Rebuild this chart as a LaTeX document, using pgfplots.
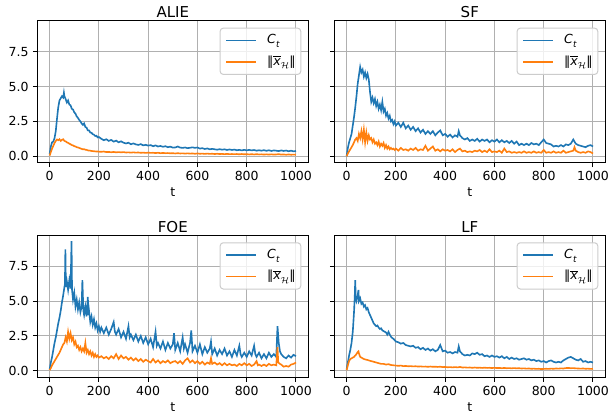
\documentclass[border=0pt]{standalone}
\usepackage{fontspec}
\setmainfont{DejaVu Sans}
\usepackage{pgfplots}
\pgfplotsset{compat=1.18}
\definecolor{c0}{HTML}{1F77B4}
\definecolor{c1}{HTML}{FF7F0E}
\definecolor{gridc}{HTML}{B0B0B0}
\definecolor{legc}{HTML}{CCCCCC}
\newcommand{\Ct}{\textit{C}\kern0.3pt\raisebox{-0.3em}{\fontsize{7}{8}\selectfont\textit{t}}}
\newcommand{\Nx}{\char"2016$\overline{\hbox{\itshape x}}$\raisebox{-0.3em}{\fontsize{7}{8}\selectfont$\mathcal{H}$}\char"2016}
\pgfplotsset{
 myax/.style={
  scale only axis, width=216.8pt, height=113.6pt,
  xmin=-50, xmax=1050, ymin=-0.46, ymax=9.71,
  xtick={0,200,...,1000}, ytick={0,2.5,5,7.5},
  grid=major, major grid style={gridc, line width=0.8pt},
  axis line style={black, line width=0.8pt},
  tick align=outside, major tick length=3.5pt, tick style={black, line width=0.8pt},
  xtick pos=left, ytick pos=left,
  xlabel={t},
  xlabel style={at={(0.5,0)}, anchor=base, yshift=-27.2pt, inner sep=0pt, font=\fontsize{10}{12}\selectfont},
  title style={at={(0.5,1)}, anchor=base, yshift=-3.8pt, inner sep=0pt, font=\fontsize{12}{14}\selectfont},
  tick label style={font=\fontsize{10}{12}\selectfont},
  /pgf/number format/assume math mode=true,
  xticklabel style={/pgf/number format/1000 sep={}},
  yticklabel style={/pgf/number format/.cd, fixed, fixed zerofill, precision=1},
  legend style={at={(0.974,0.951)}, anchor=north east, draw=legc, line width=0.8pt,
    rounded corners=2.5pt, fill=white, fill opacity=0.8, draw opacity=1, text opacity=1,
    font=\fontsize{10}{12}\selectfont, inner xsep=4.2pt, inner ysep=4.4pt, row sep=6.2pt, column sep=8pt,
    nodes={inner sep=0pt, text height=8pt, text depth=3pt}},
  legend cell align=left,
  legend image code/.code={\draw[#1] (0pt,0pt) -- (24pt,0pt);},
  every axis plot/.append style={line width=1.3pt, no marks},
 }
}
\begin{document}
\begin{tikzpicture}
\useasboundingbox (0,0) rectangle (488pt,-333.6pt);
% ALIE
\begin{axis}[myax, at={(29.84pt,-16.56pt)}, anchor=north west, title={ALIE}]
\addplot[c0] table[row sep=\\] {t y \\ 0 0.15 \\ 5 0.7 \\ 10 1.0 \\ 15 1.05 \\ 20 1.3 \\ 25 1.8 \\ 30 2.7 \\ 35 3.5 \\ 40 4.0 \\ 45 4.15 \\ 50 4.3 \\ 55 4.2 \\ 58 4.55 \\ 60 4.3 \\ 65 4.1 \\ 70 3.85 \\ 75 4.0 \\ 80 3.7 \\ 85 3.65 \\ 90 3.4 \\ 95 3.35 \\ 100 3.15 \\ 105 3.05 \\ 110 2.85 \\ 115 2.75 \\ 120 2.6 \\ 125 2.5 \\ 130 2.35 \\ 135 2.25 \\ 140 2.35 \\ 145 2.1 \\ 150 2.05 \\ 155 1.85 \\ 160 1.85 \\ 165 1.7 \\ 170 1.68 \\ 175 1.58 \\ 180 1.55 \\ 185 1.45 \\ 190 1.47 \\ 195 1.35 \\ 200 1.38 \\ 210 1.25 \\ 220 1.15 \\ 230 1.22 \\ 240 1.1 \\ 250 1.17 \\ 260 1.05 \\ 270 1.12 \\ 280 1.0 \\ 290 1.07 \\ 300 0.97 \\ 310 0.92 \\ 320 0.97 \\ 330 0.86 \\ 340 0.92 \\ 350 0.85 \\ 360 0.81 \\ 370 0.87 \\ 380 0.78 \\ 390 0.82 \\ 400 0.76 \\ 410 0.8 \\ 420 0.72 \\ 430 0.78 \\ 440 0.7 \\ 450 0.74 \\ 460 0.68 \\ 470 0.72 \\ 480 0.65 \\ 490 0.69 \\ 500 0.62 \\ 510 0.63 \\ 520 0.7 \\ 530 0.62 \\ 540 0.6 \\ 550 0.63 \\ 560 0.58 \\ 570 0.61 \\ 580 0.64 \\ 590 0.6 \\ 600 0.63 \\ 610 0.55 \\ 620 0.58 \\ 630 0.52 \\ 640 0.56 \\ 650 0.5 \\ 660 0.53 \\ 670 0.5 \\ 680 0.47 \\ 690 0.51 \\ 700 0.47 \\ 710 0.5 \\ 720 0.45 \\ 730 0.49 \\ 740 0.45 \\ 750 0.48 \\ 760 0.43 \\ 770 0.46 \\ 780 0.42 \\ 790 0.46 \\ 800 0.42 \\ 810 0.46 \\ 820 0.42 \\ 830 0.45 \\ 840 0.4 \\ 850 0.43 \\ 860 0.4 \\ 870 0.44 \\ 880 0.39 \\ 890 0.43 \\ 900 0.38 \\ 910 0.42 \\ 920 0.4 \\ 930 0.37 \\ 940 0.42 \\ 950 0.38 \\ 960 0.41 \\ 970 0.36 \\ 980 0.4 \\ 990 0.35 \\ 1000 0.38 \\};
\addlegendentry{\Ct}
\addplot[c1] table[row sep=\\] {t y \\ 0 0.05 \\ 5 0.3 \\ 10 0.55 \\ 15 0.75 \\ 20 0.95 \\ 25 1.1 \\ 30 1.2 \\ 35 1.15 \\ 40 1.22 \\ 45 1.1 \\ 50 1.17 \\ 55 1.22 \\ 60 1.1 \\ 65 1.07 \\ 70 1.0 \\ 75 0.96 \\ 80 0.9 \\ 85 0.86 \\ 90 0.8 \\ 95 0.78 \\ 100 0.72 \\ 105 0.7 \\ 110 0.65 \\ 115 0.63 \\ 120 0.6 \\ 125 0.56 \\ 130 0.53 \\ 135 0.5 \\ 140 0.51 \\ 145 0.47 \\ 150 0.46 \\ 155 0.42 \\ 160 0.41 \\ 165 0.4 \\ 170 0.38 \\ 175 0.37 \\ 180 0.36 \\ 185 0.35 \\ 190 0.34 \\ 195 0.34 \\ 200 0.33 \\ 210 0.32 \\ 220 0.34 \\ 230 0.3 \\ 240 0.31 \\ 250 0.29 \\ 260 0.31 \\ 270 0.28 \\ 280 0.3 \\ 290 0.28 \\ 300 0.3 \\ 310 0.27 \\ 320 0.28 \\ 330 0.26 \\ 340 0.28 \\ 350 0.26 \\ 360 0.27 \\ 370 0.25 \\ 380 0.26 \\ 390 0.24 \\ 400 0.26 \\ 410 0.24 \\ 420 0.25 \\ 430 0.23 \\ 440 0.25 \\ 450 0.22 \\ 460 0.24 \\ 470 0.22 \\ 480 0.23 \\ 490 0.21 \\ 500 0.22 \\ 510 0.2 \\ 520 0.22 \\ 530 0.2 \\ 540 0.21 \\ 550 0.19 \\ 560 0.21 \\ 570 0.19 \\ 580 0.2 \\ 590 0.18 \\ 600 0.2 \\ 610 0.18 \\ 620 0.19 \\ 630 0.17 \\ 640 0.19 \\ 650 0.17 \\ 660 0.18 \\ 670 0.16 \\ 680 0.18 \\ 690 0.16 \\ 700 0.17 \\ 710 0.15 \\ 720 0.17 \\ 730 0.15 \\ 740 0.16 \\ 750 0.15 \\ 760 0.16 \\ 770 0.14 \\ 780 0.16 \\ 790 0.14 \\ 800 0.15 \\ 810 0.13 \\ 820 0.15 \\ 830 0.13 \\ 840 0.15 \\ 850 0.13 \\ 860 0.14 \\ 870 0.12 \\ 880 0.14 \\ 890 0.12 \\ 900 0.14 \\ 910 0.12 \\ 920 0.13 \\ 930 0.15 \\ 940 0.12 \\ 950 0.13 \\ 960 0.11 \\ 970 0.13 \\ 980 0.11 \\ 990 0.12 \\ 1000 0.11 \\};
\addlegendentry{\Nx}
\end{axis}
% SF
\begin{axis}[myax, at={(267.44pt,-16.56pt)}, anchor=north west, title={SF}, yticklabels={}]
\addplot[c0] table[row sep=\\] {t y \\ 0 0.0 \\ 5 0.6 \\ 10 1.0 \\ 15 1.3 \\ 20 1.6 \\ 25 2.2 \\ 30 2.8 \\ 35 3.5 \\ 40 4.3 \\ 45 5.2 \\ 50 5.8 \\ 55 6.4 \\ 60 6.0 \\ 65 6.2 \\ 70 5.7 \\ 75 6.0 \\ 80 5.6 \\ 85 5.9 \\ 90 5.5 \\ 95 4.6 \\ 100 3.9 \\ 105 4.2 \\ 110 3.8 \\ 115 4.1 \\ 120 3.6 \\ 125 3.9 \\ 130 3.4 \\ 135 3.7 \\ 140 3.3 \\ 145 3.9 \\ 150 3.2 \\ 155 3.4 \\ 160 2.9 \\ 165 3.1 \\ 170 2.7 \\ 175 2.9 \\ 180 2.5 \\ 185 2.6 \\ 190 2.3 \\ 195 2.5 \\ 200 2.2 \\ 210 2.4 \\ 220 2.1 \\ 230 2.4 \\ 240 2.0 \\ 250 2.2 \\ 260 1.9 \\ 270 2.1 \\ 280 1.8 \\ 290 2.0 \\ 300 1.7 \\ 310 1.9 \\ 320 1.6 \\ 330 1.8 \\ 340 1.6 \\ 350 1.8 \\ 360 1.5 \\ 370 1.7 \\ 380 1.85 \\ 390 1.5 \\ 400 1.6 \\ 410 1.4 \\ 420 1.55 \\ 430 1.35 \\ 440 1.5 \\ 450 1.4 \\ 455 1.8 \\ 460 1.5 \\ 470 1.3 \\ 480 1.2 \\ 490 1.3 \\ 500 1.1 \\ 510 1.2 \\ 520 1.1 \\ 530 1.25 \\ 540 1.05 \\ 550 1.2 \\ 560 1.1 \\ 570 1.2 \\ 580 1.0 \\ 590 1.15 \\ 600 1.05 \\ 610 1.2 \\ 620 1.0 \\ 630 1.15 \\ 640 1.0 \\ 650 1.1 \\ 660 0.95 \\ 670 1.1 \\ 680 0.9 \\ 690 1.05 \\ 700 0.8 \\ 710 0.9 \\ 720 0.8 \\ 730 0.9 \\ 740 0.8 \\ 750 0.95 \\ 760 0.85 \\ 770 0.9 \\ 780 0.8 \\ 790 1.0 \\ 800 1.2 \\ 810 0.95 \\ 820 0.9 \\ 830 0.85 \\ 840 0.7 \\ 850 0.75 \\ 860 0.7 \\ 870 0.8 \\ 880 0.7 \\ 890 0.85 \\ 900 0.8 \\ 910 0.9 \\ 920 1.2 \\ 930 0.9 \\ 940 0.8 \\ 950 0.75 \\ 960 0.7 \\ 970 0.65 \\ 980 0.75 \\ 990 0.8 \\ 1000 0.7 \\};
\addlegendentry{\Ct}
\addplot[c1] table[row sep=\\] {t y \\ 0 0.0 \\ 5 0.2 \\ 10 0.35 \\ 15 0.5 \\ 20 0.65 \\ 25 0.8 \\ 30 1.0 \\ 35 1.2 \\ 40 1.3 \\ 45 1.1 \\ 50 1.6 \\ 55 1.3 \\ 60 1.8 \\ 65 1.2 \\ 70 1.9 \\ 75 1.0 \\ 80 1.7 \\ 85 1.1 \\ 90 1.5 \\ 95 1.2 \\ 100 1.3 \\ 105 1.0 \\ 110 1.2 \\ 115 0.9 \\ 120 1.0 \\ 125 0.8 \\ 130 1.05 \\ 135 0.7 \\ 140 0.9 \\ 145 0.75 \\ 150 0.95 \\ 155 0.6 \\ 160 0.8 \\ 165 0.55 \\ 170 0.7 \\ 175 0.5 \\ 180 0.6 \\ 185 0.5 \\ 190 0.55 \\ 195 0.45 \\ 200 0.55 \\ 210 0.4 \\ 220 0.6 \\ 230 0.45 \\ 240 0.5 \\ 250 0.4 \\ 260 0.55 \\ 270 0.45 \\ 280 0.6 \\ 290 0.4 \\ 300 0.5 \\ 310 0.45 \\ 320 0.75 \\ 330 0.4 \\ 340 0.55 \\ 350 0.7 \\ 360 0.4 \\ 370 0.5 \\ 380 0.35 \\ 390 0.5 \\ 400 0.4 \\ 410 0.45 \\ 420 0.35 \\ 430 0.5 \\ 440 0.3 \\ 450 0.45 \\ 460 0.55 \\ 470 0.35 \\ 480 0.4 \\ 490 0.3 \\ 500 0.35 \\ 510 0.3 \\ 520 0.4 \\ 530 0.35 \\ 540 0.45 \\ 550 0.3 \\ 560 0.4 \\ 570 0.3 \\ 580 0.5 \\ 590 0.3 \\ 600 0.35 \\ 610 0.3 \\ 620 0.4 \\ 630 0.25 \\ 640 0.55 \\ 650 0.3 \\ 660 0.35 \\ 670 0.25 \\ 680 0.3 \\ 690 0.25 \\ 700 0.3 \\ 710 0.25 \\ 720 0.35 \\ 730 0.25 \\ 740 0.3 \\ 750 0.25 \\ 760 0.35 \\ 770 0.25 \\ 780 0.3 \\ 790 0.25 \\ 800 0.45 \\ 810 0.25 \\ 820 0.3 \\ 830 0.25 \\ 840 0.35 \\ 850 0.25 \\ 860 0.3 \\ 870 0.25 \\ 880 0.4 \\ 890 0.25 \\ 900 0.3 \\ 910 0.35 \\ 920 0.4 \\ 925 0.65 \\ 930 0.4 \\ 940 0.3 \\ 950 0.25 \\ 960 0.3 \\ 970 0.25 \\ 980 0.35 \\ 990 0.3 \\ 1000 0.2 \\};
\addlegendentry{\Nx}
\end{axis}
% FOE
\begin{axis}[myax, at={(29.84pt,-188.24pt)}, anchor=north west, title={FOE}]
\addplot[c0] table[row sep=\\] {t y \\ 0 0.1 \\ 5 0.6 \\ 10 1.0 \\ 15 1.5 \\ 20 2.0 \\ 25 2.4 \\ 30 2.9 \\ 35 3.4 \\ 40 3.8 \\ 45 4.3 \\ 50 4.9 \\ 55 5.4 \\ 60 6.0 \\ 62 6.2 \\ 64 8.7 \\ 66 6.0 \\ 70 6.4 \\ 75 5.8 \\ 80 6.5 \\ 85 5.9 \\ 89 9.3 \\ 91 5.8 \\ 95 5.1 \\ 100 5.6 \\ 105 4.6 \\ 110 5.1 \\ 115 4.4 \\ 120 4.9 \\ 125 4.2 \\ 130 4.6 \\ 133 6.5 \\ 137 4.3 \\ 140 4.0 \\ 145 4.6 \\ 150 3.9 \\ 155 5.3 \\ 158 4.0 \\ 160 4.3 \\ 165 3.5 \\ 170 3.9 \\ 175 3.3 \\ 180 3.7 \\ 185 3.1 \\ 190 3.4 \\ 195 2.9 \\ 200 3.2 \\ 205 2.8 \\ 210 3.1 \\ 220 2.7 \\ 230 3.1 \\ 240 2.6 \\ 250 3.0 \\ 260 3.5 \\ 265 2.8 \\ 270 2.6 \\ 280 3.0 \\ 290 2.4 \\ 300 2.8 \\ 310 2.3 \\ 320 3.2 \\ 325 2.4 \\ 330 2.6 \\ 340 2.2 \\ 350 2.6 \\ 360 2.1 \\ 370 2.5 \\ 380 2.0 \\ 390 2.4 \\ 400 1.9 \\ 410 2.3 \\ 420 1.7 \\ 430 2.8 \\ 435 1.8 \\ 440 2.0 \\ 450 1.6 \\ 460 2.1 \\ 470 1.5 \\ 480 2.0 \\ 490 1.6 \\ 500 1.9 \\ 505 2.7 \\ 510 1.5 \\ 520 2.0 \\ 530 1.4 \\ 540 2.4 \\ 545 1.6 \\ 550 1.9 \\ 560 1.3 \\ 570 2.0 \\ 575 2.9 \\ 580 1.4 \\ 590 1.8 \\ 600 1.3 \\ 610 1.9 \\ 620 1.2 \\ 630 1.7 \\ 640 1.3 \\ 650 1.6 \\ 655 2.1 \\ 660 1.2 \\ 670 1.6 \\ 680 1.1 \\ 690 1.5 \\ 700 1.2 \\ 710 1.6 \\ 720 1.1 \\ 730 1.4 \\ 740 1.0 \\ 750 1.5 \\ 760 1.1 \\ 770 1.8 \\ 775 1.2 \\ 780 1.0 \\ 790 1.3 \\ 800 1.0 \\ 810 1.4 \\ 820 1.1 \\ 830 1.8 \\ 835 1.2 \\ 840 1.0 \\ 850 1.3 \\ 860 0.9 \\ 870 1.2 \\ 880 0.9 \\ 890 1.3 \\ 900 1.0 \\ 910 1.2 \\ 920 1.0 \\ 925 3.2 \\ 930 2.0 \\ 935 1.4 \\ 940 1.2 \\ 950 1.0 \\ 960 0.9 \\ 970 1.1 \\ 980 0.95 \\ 990 1.15 \\ 1000 1.05 \\};
\addlegendentry{\Ct}
\addplot[c1] table[row sep=\\] {t y \\ 0 0.05 \\ 5 0.2 \\ 10 0.4 \\ 15 0.55 \\ 20 0.7 \\ 25 0.85 \\ 30 1.0 \\ 35 1.15 \\ 40 1.3 \\ 45 1.5 \\ 50 1.7 \\ 55 1.9 \\ 60 2.0 \\ 65 2.4 \\ 70 2.1 \\ 75 2.8 \\ 80 2.3 \\ 85 2.7 \\ 90 2.2 \\ 95 2.4 \\ 100 1.9 \\ 105 2.1 \\ 110 1.7 \\ 115 1.8 \\ 120 1.5 \\ 125 1.7 \\ 130 1.4 \\ 135 1.6 \\ 140 1.4 \\ 145 2.0 \\ 150 1.3 \\ 155 1.5 \\ 160 1.2 \\ 165 1.4 \\ 170 1.1 \\ 175 1.3 \\ 180 1.0 \\ 185 1.2 \\ 190 1.0 \\ 195 1.1 \\ 200 0.95 \\ 210 1.05 \\ 220 0.9 \\ 230 1.0 \\ 240 0.85 \\ 250 1.05 \\ 260 0.9 \\ 270 1.2 \\ 280 0.85 \\ 290 1.1 \\ 300 0.9 \\ 310 1.0 \\ 320 0.8 \\ 330 0.95 \\ 340 0.75 \\ 350 0.9 \\ 360 0.7 \\ 370 0.85 \\ 380 0.65 \\ 390 0.8 \\ 400 0.7 \\ 410 0.6 \\ 420 0.85 \\ 430 0.6 \\ 440 0.75 \\ 450 0.55 \\ 460 0.7 \\ 470 0.6 \\ 480 0.75 \\ 490 0.55 \\ 500 0.65 \\ 510 0.7 \\ 520 0.55 \\ 530 0.7 \\ 540 0.5 \\ 550 0.75 \\ 560 0.9 \\ 570 0.6 \\ 580 0.75 \\ 590 0.55 \\ 600 0.7 \\ 610 0.5 \\ 620 0.65 \\ 630 0.45 \\ 640 0.6 \\ 650 0.5 \\ 655 0.9 \\ 660 0.5 \\ 670 0.6 \\ 680 0.45 \\ 690 0.55 \\ 700 0.4 \\ 710 0.55 \\ 720 0.4 \\ 730 0.5 \\ 740 0.4 \\ 750 0.45 \\ 760 0.35 \\ 770 0.5 \\ 780 0.4 \\ 790 0.55 \\ 800 0.4 \\ 810 0.5 \\ 820 0.35 \\ 830 0.45 \\ 840 0.7 \\ 845 0.4 \\ 850 0.45 \\ 860 0.35 \\ 870 0.45 \\ 880 0.35 \\ 890 0.5 \\ 900 0.4 \\ 910 0.45 \\ 920 0.4 \\ 925 1.7 \\ 928 0.6 \\ 935 0.5 \\ 940 0.45 \\ 950 0.3 \\ 960 0.35 \\ 970 0.3 \\ 980 0.45 \\ 990 0.5 \\ 1000 0.6 \\};
\addlegendentry{\Nx}
\end{axis}
% LF
\begin{axis}[myax, at={(267.44pt,-188.24pt)}, anchor=north west, title={LF}, yticklabels={}]
\addplot[c0] table[row sep=\\] {t y \\ 0 0.1 \\ 5 0.6 \\ 10 1.1 \\ 15 1.5 \\ 20 2.0 \\ 25 2.8 \\ 30 4.2 \\ 33 5.3 \\ 35 6.5 \\ 37 5.2 \\ 40 5.0 \\ 45 5.4 \\ 48 5.8 \\ 50 5.0 \\ 55 5.2 \\ 60 4.8 \\ 65 4.9 \\ 70 4.6 \\ 75 4.7 \\ 80 4.4 \\ 85 4.5 \\ 90 4.2 \\ 95 4.0 \\ 100 3.8 \\ 105 3.6 \\ 110 3.4 \\ 115 3.3 \\ 120 3.2 \\ 125 3.25 \\ 130 3.1 \\ 135 3.0 \\ 140 3.05 \\ 145 2.9 \\ 150 2.85 \\ 155 2.8 \\ 160 2.75 \\ 165 2.6 \\ 170 2.8 \\ 175 2.6 \\ 180 2.45 \\ 185 2.35 \\ 190 2.3 \\ 195 2.2 \\ 200 2.1 \\ 210 2.05 \\ 220 1.95 \\ 230 2.0 \\ 240 1.85 \\ 250 1.8 \\ 260 1.75 \\ 270 1.8 \\ 280 1.65 \\ 290 1.7 \\ 300 1.55 \\ 310 1.65 \\ 320 1.5 \\ 330 1.6 \\ 340 1.45 \\ 350 1.55 \\ 360 1.4 \\ 370 1.5 \\ 380 1.85 \\ 390 1.4 \\ 400 1.45 \\ 410 1.3 \\ 420 1.35 \\ 430 1.25 \\ 440 1.35 \\ 450 1.3 \\ 455 1.75 \\ 460 1.4 \\ 470 1.2 \\ 480 1.1 \\ 490 1.15 \\ 500 1.1 \\ 510 1.25 \\ 520 1.2 \\ 530 1.3 \\ 540 1.15 \\ 550 1.2 \\ 560 1.05 \\ 570 1.1 \\ 580 1.0 \\ 590 1.1 \\ 600 1.0 \\ 610 1.05 \\ 620 0.95 \\ 630 1.05 \\ 640 0.9 \\ 650 1.0 \\ 660 0.85 \\ 670 0.95 \\ 680 0.85 \\ 690 0.9 \\ 700 0.8 \\ 710 0.85 \\ 720 0.9 \\ 730 0.8 \\ 740 0.85 \\ 750 0.75 \\ 760 0.8 \\ 770 0.7 \\ 780 0.75 \\ 790 0.65 \\ 800 0.7 \\ 810 0.6 \\ 820 0.7 \\ 830 0.75 \\ 840 0.65 \\ 850 0.6 \\ 860 0.65 \\ 870 0.6 \\ 880 0.75 \\ 890 0.85 \\ 900 0.95 \\ 910 1.0 \\ 920 0.9 \\ 930 0.8 \\ 940 0.75 \\ 950 0.85 \\ 960 0.65 \\ 970 0.7 \\ 980 0.6 \\ 990 0.65 \\ 1000 0.6 \\};
\addlegendentry{\Ct}
\addplot[c1] table[row sep=\\] {t y \\ 0 0.05 \\ 5 0.4 \\ 10 0.7 \\ 15 0.85 \\ 20 0.9 \\ 25 0.95 \\ 30 1.0 \\ 35 1.1 \\ 40 1.2 \\ 45 1.35 \\ 48 1.4 \\ 50 1.25 \\ 55 1.0 \\ 60 0.95 \\ 65 0.9 \\ 70 0.85 \\ 75 0.82 \\ 80 0.8 \\ 85 0.78 \\ 90 0.75 \\ 95 0.72 \\ 100 0.7 \\ 110 0.65 \\ 120 0.6 \\ 130 0.55 \\ 140 0.5 \\ 150 0.5 \\ 160 0.45 \\ 170 0.48 \\ 180 0.42 \\ 190 0.4 \\ 200 0.38 \\ 210 0.36 \\ 220 0.38 \\ 230 0.34 \\ 240 0.35 \\ 250 0.33 \\ 260 0.34 \\ 270 0.32 \\ 280 0.33 \\ 290 0.31 \\ 300 0.32 \\ 310 0.3 \\ 320 0.31 \\ 330 0.29 \\ 340 0.31 \\ 350 0.29 \\ 360 0.3 \\ 370 0.28 \\ 380 0.3 \\ 390 0.27 \\ 400 0.28 \\ 410 0.26 \\ 420 0.27 \\ 430 0.25 \\ 440 0.27 \\ 450 0.25 \\ 460 0.28 \\ 470 0.24 \\ 480 0.25 \\ 490 0.23 \\ 500 0.24 \\ 510 0.22 \\ 520 0.24 \\ 530 0.22 \\ 540 0.23 \\ 550 0.21 \\ 560 0.23 \\ 570 0.21 \\ 580 0.22 \\ 590 0.2 \\ 600 0.22 \\ 610 0.2 \\ 620 0.21 \\ 630 0.19 \\ 640 0.21 \\ 650 0.19 \\ 660 0.2 \\ 670 0.18 \\ 680 0.2 \\ 690 0.18 \\ 700 0.19 \\ 710 0.17 \\ 720 0.18 \\ 730 0.16 \\ 740 0.17 \\ 750 0.15 \\ 760 0.16 \\ 770 0.14 \\ 780 0.15 \\ 790 0.13 \\ 800 0.14 \\ 810 0.15 \\ 820 0.14 \\ 830 0.16 \\ 840 0.15 \\ 850 0.17 \\ 860 0.16 \\ 870 0.18 \\ 880 0.17 \\ 890 0.2 \\ 900 0.21 \\ 910 0.19 \\ 920 0.2 \\ 930 0.18 \\ 940 0.17 \\ 950 0.16 \\ 960 0.17 \\ 970 0.15 \\ 980 0.16 \\ 990 0.14 \\ 1000 0.15 \\};
\addlegendentry{\Nx}
\end{axis}
\end{tikzpicture}
\end{document}
